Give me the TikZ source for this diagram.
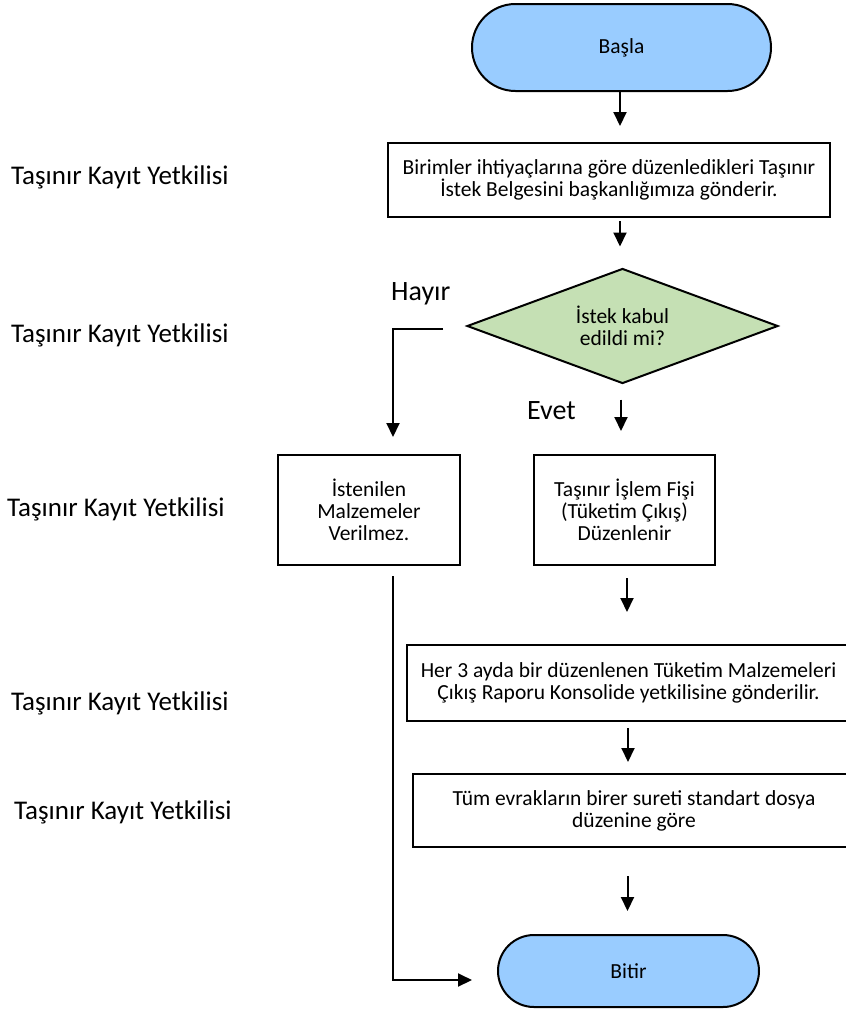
\documentclass[tikz,border=0pt]{standalone}
\usepackage{fontspec}
\setmainfont{Carlito}
\usetikzlibrary{arrows.meta,shapes.geometric}
\definecolor{termblue}{RGB}{153,204,255}
\definecolor{decgreen}{RGB}{197,224,180}
\begin{document}
\begin{tikzpicture}[x=1pt,y=-1pt,
  boxtext/.style={font=\fontsize{21.5}{22}\selectfont, align=center, inner sep=0pt},
  term/.style={boxtext, draw=black, line width=2pt, fill=termblue},
  proc/.style={boxtext, draw=black, line width=2pt, fill=white},
  dec/.style={boxtext, shape=diamond, aspect=2.7, draw=black, line width=2pt, fill=decgreen, minimum width=311pt, minimum height=115pt},
  lab/.style={font=\fontsize{27}{30}\selectfont, inner sep=0pt},
  branch/.style={font=\fontsize{28}{30}\selectfont, inner sep=0pt},
  arr/.style={line width=2pt, -{Triangle[length=14pt,width=13pt]}}]
\useasboundingbox (0,0) rectangle (846,1010);

% side labels
\node[lab, anchor=base west] (l1) at (11,184) {Taşınır Kayıt Yetkilisi};
\node[lab, anchor=base west] (l2) at (11,342) {Taşınır Kayıt Yetkilisi};
\node[lab, anchor=base west] (l3) at (7,516) {Taşınır Kayıt Yetkilisi};
\node[lab, anchor=base west] (l4) at (11,710) {Taşınır Kayıt Yetkilisi};
\node[lab, anchor=base west] (l5) at (14,819) {Taşınır Kayıt Yetkilisi};

% flow nodes
\node[term, minimum width=299pt, minimum height=87pt, rounded corners=43.5pt] (start) at (621.5,47.5) {Başla};
\node[proc, minimum width=442pt, minimum height=74pt] (b1) at (609,180) {Birimler ihtiyaçlarına göre düzenledikleri Taşınır\\İstek Belgesini başkanlığımıza gönderir.};
\node[dec] (dia) at (622.5,326) {İstek kabul\\edildi mi?};
\node[proc, minimum width=182pt, minimum height=110pt] (no) at (369,510) {İstenilen\\Malzemeler\\Verilmez.};
\node[proc, minimum width=181pt, minimum height=110pt] (yes) at (624.5,510) {Taşınır İşlem Fişi\\(Tüketim Çıkış)\\Düzenlenir};
\node[proc, minimum width=443pt, minimum height=76pt] (rep) at (628.5,683) {Her 3 ayda bir düzenlenen Tüketim Malzemeleri\\Çıkış Raporu Konsolide yetkilisine gönderilir.};
\node[proc, minimum width=442pt, minimum height=73pt] (arch) at (634,810.5) {\raisebox{-3pt}{\parbox{430pt}{\centering Tüm evrakların birer sureti standart dosya\\düzenine göre}}};
\node[term, minimum width=261pt, minimum height=72pt, rounded corners=36pt] (end) at (628.5,971) {Bitir};

% branch labels
\node[branch, anchor=base west] (hayir) at (391,300) {Hayır};
\node[branch, anchor=base west] (evet) at (527,419) {Evet};

% connectors
\draw[arr, shorten >=16pt] ([xshift=-1.5pt]start.south) -- ([xshift=-1.5pt]start.south |- b1.north);
\draw[arr, shorten <=3pt, shorten >=21pt] ([xshift=-1.5pt]start.south |- b1.south) -- ([xshift=-1.5pt]start.south |- dia.north);
\draw[arr, shorten >=17pt] ([xshift=-23pt,yshift=-3pt]dia.west) -| ([xshift=24pt]no.north);
\draw[arr, shorten <=15pt, shorten >=23pt] ([xshift=-1.5pt]dia.south) -- ([xshift=-1.5pt]dia.south |- yes.north);
\draw[arr, shorten <=12pt, shorten >=32pt] ([xshift=2.5pt]yes.south) -- ([xshift=2.5pt]yes.south |- rep.north);
\draw[arr, shorten <=6pt, shorten >=11pt] ([xshift=-0.5pt]rep.south) -- ([xshift=-0.5pt]rep.south |- arch.north);
\draw[arr, shorten <=28pt, shorten >=23pt] ([xshift=-6.5pt]arch.south) -- ([xshift=-6.5pt]arch.south |- end.north);
\draw[arr, shorten <=10pt, shorten >=25pt] ([xshift=24pt]no.south) |- ([yshift=-9pt]end.west);
\end{tikzpicture}
\end{document}
